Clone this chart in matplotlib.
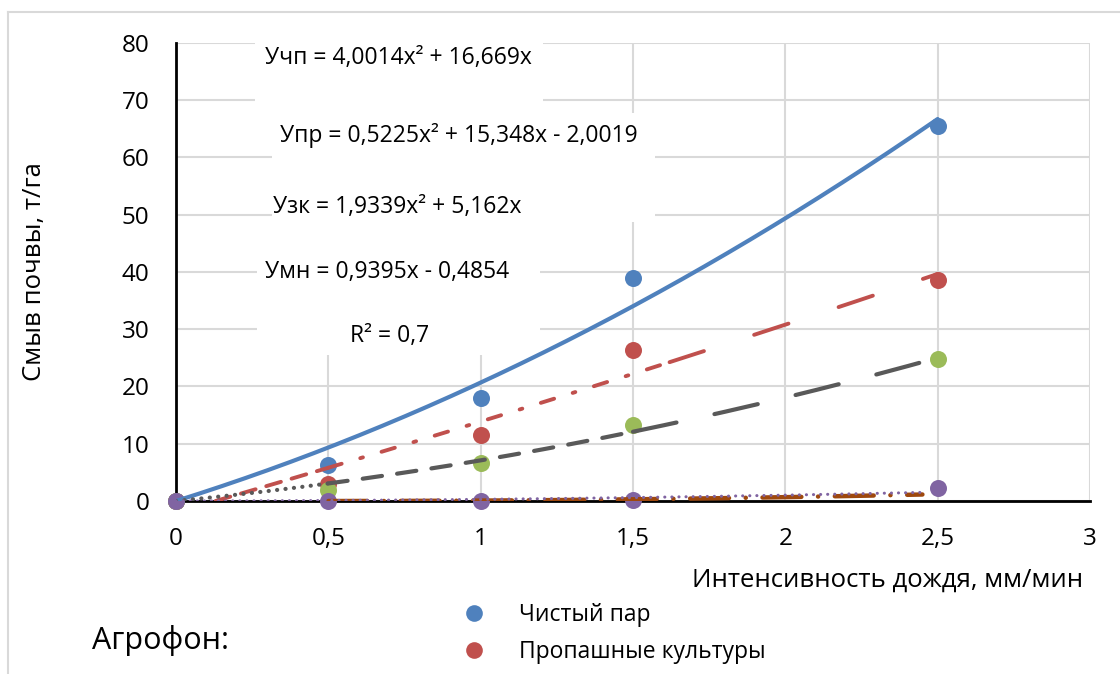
import numpy as np
import matplotlib
matplotlib.use("Agg")
import matplotlib.pyplot as plt
from matplotlib.lines import Line2D
from matplotlib.patches import Rectangle

plt.rcParams['font.family'] = ['Open Sans', 'DejaVu Sans']
plt.rcParams['lines.scale_dashes'] = False

# ---- data ----
x_vals = [0, 0.5, 1, 1.5, 2.5]
chisty_par = [0, 6.3, 17.9, 38.9, 65.5]
propashnye = [0, 3.0, 11.6, 26.4, 38.6]
zernovye = [0, 2.0, 6.6, 13.3, 24.8]
mnogoletnie = [0, 0, 0, 0.2, 2.3]

series_names = ["Чистый пар", "Пропашные культуры"]
colors = ["#4F81BD", "#C0504D", "#9BBB59", "#8064A2"]

# trend-line coefficients (highest power first)
coef_chp = [4.0014, 16.669, 0.0]
coef_pr = [0.5225, 15.348, -2.0019]
coef_zk = [1.9339, 5.162, 0.0]
coef_mn_drawn = [0.224, 0.064, 0.0]
coef_brown = [0.3, -0.3, 0.07]

eq_labels = [
    "Учп = 4,0014x² + 16,669x",
    "Упр = 0,5225x² + 15,348x - 2,0019",
    "Узк = 1,9339x² + 5,162x",
    "Умн = 0,9395x - 0,4854",
    "R² = 0,7",
]

x_ticks = [0, 0.5, 1, 1.5, 2, 2.5, 3]
x_tick_labels = ["0", "0,5", "1", "1,5", "2", "2,5", "3"]
y_ticks = [0, 10, 20, 30, 40, 50, 60, 70, 80]

W, H = 1120, 674
fig = plt.figure(figsize=(W / 100, H / 100), dpi=100)
ax = fig.add_axes([176 / W, 1 - 501 / H, (1090 - 176) / W, (501 - 42.7) / H])

ax.set_xlim(0, 3)
ax.set_ylim(0, 80)
ax.set_xticks(x_ticks)
ax.set_xticklabels(x_tick_labels)
ax.set_yticks(y_ticks)
ax.grid(True, color="#D9D9D9", linewidth=1.5, zorder=0)
ax.set_axisbelow(True)
for s in ["top", "right"]:
    ax.spines[s].set_visible(False)
for s in ["left", "bottom"]:
    ax.spines[s].set_color("black")
    ax.spines[s].set_linewidth(2)
    ax.spines[s].set_zorder(2.5)
ax.tick_params(length=0, pad=19, labelsize=17.5)

# white label backgrounds (decorative)
def px_to_data(px, py):
    return (px - 176) / ((1090 - 176) / 3), (501 - py) / ((501 - 42.7) / 80)

for (x0, y0, x1, y1) in [(255, 28, 543, 113), (272, 113, 655, 222), (257, 222, 540, 355)]:
    dx0, dy1 = px_to_data(x0, y0)
    dx1, dy0 = px_to_data(x1, y1)
    ax.add_patch(Rectangle((dx0, dy0), dx1 - dx0, dy1 - dy0, facecolor="white",
                           edgecolor="none", zorder=1, clip_on=False))

# markers
for ys, c in zip([chisty_par, propashnye, zernovye, mnogoletnie], colors):
    ax.scatter(x_vals, ys, s=150, color=c, zorder=3, linewidths=0, clip_on=False)

# trend lines
def seg(coef, a, b, n=200):
    xx = np.linspace(a, b, n)
    return xx, np.polyval(coef, xx)

xx, yy = seg(coef_chp, 0, 2.5)
ax.plot(xx, yy, color="#4F81BD", lw=3.0, zorder=4, solid_capstyle="round")

xx, yy = seg(coef_pr, 0.13, 0.5)
ax.plot(xx, yy, color="#C0504D", lw=2.8, zorder=4, dashes=(11, 8), dash_capstyle="round")
xx, yy = seg(coef_pr, 0.5, 1.62)
ax.plot(xx, yy, color="#C0504D", lw=2.8, zorder=4, dashes=(10, 14, 2, 14), dash_capstyle="round")
xx, yy = seg(coef_pr, 1.62, 2.5)
ax.plot(xx, yy, color="#C0504D", lw=2.8, zorder=4, dashes=(26, 38), dash_capstyle="round")

xx, yy = seg(coef_zk, 0, 0.5)
ax.plot(xx, yy, color="#595959", lw=3.0, zorder=4, dashes=(0.1, 6), dash_capstyle="round")
xx, yy = seg(coef_zk, 0.5, 1.5)
ax.plot(xx, yy, color="#595959", lw=3.0, zorder=4, dashes=(14, 11), dash_capstyle="round")
xx, yy = seg(coef_zk, 1.5, 2.5)
ax.plot(xx, yy, color="#595959", lw=3.0, zorder=4, dashes=(32, 28), dash_capstyle="round")

xx, yy = seg(coef_brown, 0.5, 2.45)
ax.plot(xx, yy, color="#9E480E", lw=3.2, zorder=4, dashes=(28, 12, 0.1, 12), dash_capstyle="round")

xx, yy = seg(coef_mn_drawn, 0, 2.45)
ax.plot(xx, yy, color="#8064A2", lw=2.2, zorder=4, dashes=(0.1, 5), dash_capstyle="round")

# equation labels
eq_pos = [(265, 58), (280, 136), (273, 207), (265, 272), (350, 336)]
for txt, (px, py) in zip(eq_labels, eq_pos):
    fig.text(px / W, 1 - py / H, txt, ha="left", va="center", fontsize=16.5, zorder=5)

# axis titles
fig.text(35 / W, 1 - 272 / H, "Смыв почвы, т/га", rotation=90, ha="center", va="center", fontsize=18.5)
fig.text(1083 / W, 1 - 580 / H, "Интенсивность дождя, мм/мин", ha="right", va="center", fontsize=18.5)

# legend
handles = [Line2D([], [], ls="none", marker="o", markersize=12, color=c, markeredgewidth=0)
           for c in colors[:2]]
ax.legend(handles, series_names, loc="upper left", bbox_to_anchor=(463 / W, 1 - 603 / H),
          bbox_transform=fig.transFigure, frameon=False, fontsize=16.5, handlelength=1.0,
          handletextpad=1.45, labelspacing=0.55, borderpad=0, borderaxespad=0)
fig.text(92 / W, 1 - 641 / H, "Агрофон:", ha="left", va="center", fontsize=22)

# chart-area border
fig.add_artist(Line2D([8 / W, 1], [1 - 12 / H, 1 - 12 / H], color="#D9D9D9", lw=1.5))
fig.add_artist(Line2D([8 / W, 8 / W], [0, 1 - 12 / H], color="#D9D9D9", lw=1.5))

fig.savefig("out.png", dpi=100)
